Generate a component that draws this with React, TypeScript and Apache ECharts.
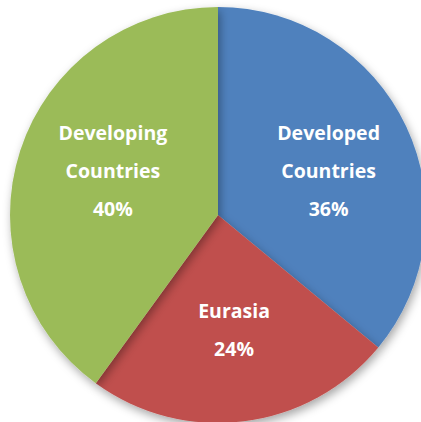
import React, { useEffect, useRef } from "react";
import * as echarts from "echarts";

const categories = ["Developed\nCountries", "Eurasia", "Developing\nCountries"];
const shares = [36, 24, 40];
const colors = ["#4F81BD", "#C0504D", "#9BBB59"];
// label nudges [dx, dy]
const labelNudges = [
  [2, 7],
  [1, -5],
  [9, -7],
];

export default function App() {
  const ref = useRef<HTMLDivElement>(null);
  useEffect(() => {
    if (!ref.current) return;
    const chart = echarts.init(ref.current, null, { renderer: "svg" });
    const data = categories.map((name, i) => ({ name, value: shares[i] }));
    chart.setOption({
      animation: false,
      backgroundColor: "#ffffff",
      series: [
        {
          type: "pie",
          center: [218, 215],
          radius: [0, 208],
          startAngle: 90,
          clockwise: true,
          silent: true,
          label: { show: false },
          labelLine: { show: false },
          itemStyle: {
            shadowBlur: 10,
            shadowOffsetX: 2,
            shadowOffsetY: 4,
            shadowColor: "rgba(0,0,0,0.35)",
          },
          data: data.map((d, i) => ({ ...d, itemStyle: { color: colors[i] } })),
        },
        {
          type: "pie",
          center: [218, 215],
          radius: [0, 234],
          startAngle: 90,
          clockwise: true,
          silent: true,
          itemStyle: { color: "rgba(0,0,0,0)" },
          labelLine: { show: false },
          label: {
            show: true,
            position: "inside",
            formatter: (p: any) => `${p.name}\n${p.value}%`,
            color: "#ffffff",
            fontFamily: "Open Sans",
            fontWeight: "bold",
            fontSize: 19.5,
            lineHeight: 38,
            align: "center",
          },
          labelLayout: (p: any) => ({
            dx: labelNudges[p.dataIndex][0],
            dy: labelNudges[p.dataIndex][1],
          }),
          data,
        },
      ],
    });
    return () => chart.dispose();
  }, []);
  return (
    <div
      ref={ref}
      style={{ position: "fixed", left: 0, top: 0, width: 421, height: 422 }}
    />
  );
}
